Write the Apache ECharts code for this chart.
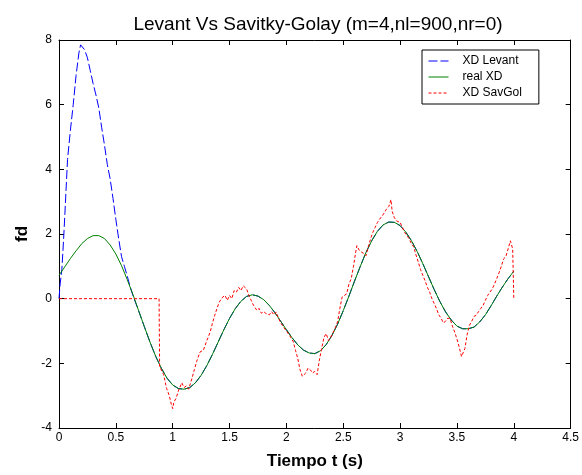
<!DOCTYPE html>
<html>
<head>
<meta charset="utf-8">
<script src="https://cdn.jsdelivr.net/npm/echarts@6/dist/echarts.min.js"></script>
<style>
  html, body { margin: 0; padding: 0; background: #fff; }
  #chart { width: 582px; height: 475px; }
</style>
</head>
<body>
<div id="chart"></div>
<script>
// señal real XD (verde)
const realXD = [
  [0, 0.72], [0.05, 0.98], [0.1, 1.24], [0.15, 1.48], [0.2, 1.7], [0.25, 1.86], [0.3, 1.95], [0.35, 1.95],
  [0.4, 1.86], [0.45, 1.66], [0.5, 1.38], [0.55, 1.02], [0.6, 0.59], [0.65, 0.13], [0.7, -0.37], [0.75, -0.86],
  [0.8, -1.34], [0.85, -1.78], [0.9, -2.15], [0.95, -2.46], [1.0, -2.67], [1.05, -2.78], [1.1, -2.8], [1.15, -2.75],
  [1.2, -2.6], [1.25, -2.37], [1.3, -2.07], [1.35, -1.72], [1.4, -1.34], [1.45, -0.96], [1.5, -0.61], [1.55, -0.31],
  [1.6, -0.08], [1.65, 0.07], [1.7, 0.12], [1.75, 0.08], [1.8, -0.03], [1.85, -0.21], [1.9, -0.44], [1.95, -0.7],
  [2.0, -0.96], [2.05, -1.21], [2.1, -1.43], [2.15, -1.59], [2.2, -1.68], [2.25, -1.7], [2.3, -1.61], [2.35, -1.42],
  [2.4, -1.14], [2.45, -0.79], [2.5, -0.37], [2.55, 0.08], [2.6, 0.55], [2.65, 1.0], [2.7, 1.43], [2.75, 1.79],
  [2.8, 2.08], [2.85, 2.28], [2.9, 2.37], [2.95, 2.36], [3.0, 2.26], [3.05, 2.06], [3.1, 1.79], [3.15, 1.46],
  [3.2, 1.08], [3.25, 0.68], [3.3, 0.28], [3.35, -0.09], [3.4, -0.41], [3.45, -0.66], [3.5, -0.85], [3.55, -0.93],
  [3.6, -0.93], [3.65, -0.88], [3.7, -0.72], [3.75, -0.5], [3.8, -0.22], [3.85, 0.08], [3.9, 0.36], [3.95, 0.62],
  [4.0, 0.85]
]

// Levant: el pico inicial, luego sigue a la señal real
const levantHead = [
  [0, 0], [0.01, 0.45], [0.025, 0.9], [0.04, 1.8], [0.05, 2.5], [0.075, 4.3], [0.1, 5.2], [0.125, 6.0],
  [0.15, 6.9], [0.175, 7.6], [0.19, 7.85], [0.2, 7.85], [0.225, 7.7], [0.25, 7.45], [0.275, 7.05], [0.3, 6.65],
  [0.325, 6.3], [0.35, 5.9], [0.375, 5.3], [0.4, 4.75], [0.425, 4.15], [0.45, 3.7], [0.475, 3.1], [0.5, 2.45],
  [0.525, 1.85], [0.55, 1.3], [0.575, 1.0], [0.6, 0.7], [0.625, 0.38], [0.65, 0.1]
]
const levantXD = levantHead.concat(realXD.filter(p => p[0] >= 0.7))

// Savitzky-Golay (rojo)
const savGolXD = [
  [0, 0], [0.88, 0], [0.885, -2.1], [0.92, -2.35], [0.946, -2.77], [0.97, -3.0], [0.99, -3.3], [1.0, -3.4],
  [1.01, -3.2], [1.03, -3.08], [1.05, -2.85], [1.08, -2.6], [1.1, -2.75], [1.12, -2.7], [1.14, -2.8], [1.17, -2.46],
  [1.19, -2.2], [1.21, -1.95], [1.24, -1.65], [1.27, -1.59], [1.3, -1.3], [1.33, -1.03], [1.35, -0.75], [1.37, -0.51],
  [1.39, -0.3], [1.41, -0.1], [1.44, 0.05], [1.46, 0.1], [1.48, -0.05], [1.5, 0.1], [1.52, 0.0], [1.54, 0.25],
  [1.56, 0.2], [1.58, 0.35], [1.6, 0.25], [1.62, 0.4], [1.63, 0.46], [1.65, 0.3], [1.67, 0.1], [1.69, -0.05],
  [1.71, -0.2], [1.74, -0.36], [1.76, -0.3], [1.78, -0.45], [1.8, -0.4], [1.82, -0.46], [1.85, -0.5], [1.87, -0.4],
  [1.89, -0.5], [1.91, -0.41], [1.93, -0.6], [1.95, -0.75], [1.97, -0.86], [2.0, -1.0], [2.03, -1.15], [2.06, -1.33],
  [2.08, -1.6], [2.1, -1.85], [2.12, -2.2], [2.14, -2.4], [2.15, -2.46], [2.17, -2.3], [2.19, -2.15], [2.21, -2.2],
  [2.23, -2.3], [2.25, -2.25], [2.27, -2.35], [2.29, -1.9], [2.31, -1.54], [2.33, -1.2], [2.35, -1.08], [2.37, -1.3],
  [2.39, -1.2], [2.41, -1.05], [2.43, -0.9], [2.45, -0.72], [2.47, -0.3], [2.49, 0.05], [2.51, 0.1], [2.53, 0.15],
  [2.55, 0.45], [2.57, 0.62], [2.59, 1.0], [2.61, 1.45], [2.62, 1.64], [2.64, 1.5], [2.66, 1.44], [2.68, 1.4],
  [2.7, 1.33], [2.72, 1.6], [2.74, 1.85], [2.76, 2.05], [2.78, 2.2], [2.8, 2.35], [2.82, 2.46], [2.84, 2.55],
  [2.86, 2.65], [2.88, 2.77], [2.9, 2.85], [2.92, 3.06], [2.93, 2.7], [2.95, 2.5], [2.97, 2.4], [3.0, 2.36],
  [3.02, 2.2], [3.04, 2.05], [3.06, 1.95], [3.08, 1.85], [3.1, 1.7], [3.12, 1.6], [3.14, 1.35], [3.16, 1.13],
  [3.18, 0.9], [3.2, 0.72], [3.22, 0.55], [3.24, 0.35], [3.26, 0.2], [3.28, 0.0], [3.3, -0.15], [3.32, -0.31],
  [3.34, -0.5], [3.36, -0.6], [3.38, -0.75], [3.4, -0.7], [3.42, -0.6], [3.44, -0.62], [3.46, -0.85], [3.48, -1.03],
  [3.5, -1.25], [3.52, -1.5], [3.54, -1.79], [3.55, -1.85], [3.57, -1.54], [3.59, -1.1], [3.61, -0.82], [3.63, -0.7],
  [3.65, -0.55], [3.67, -0.51], [3.69, -0.4], [3.71, -0.3], [3.73, -0.21], [3.75, -0.05], [3.77, 0.1], [3.79, 0.2],
  [3.81, 0.3], [3.83, 0.45], [3.85, 0.62], [3.87, 0.8], [3.89, 1.0], [3.91, 1.23], [3.93, 1.3], [3.95, 1.54],
  [3.97, 1.79], [3.99, 1.54], [4.0, 0]
]

const seriesNames = ['XD Levant', 'real XD', 'XD SavGol']

const chart = echarts.init(document.getElementById('chart'))

const font = 'Liberation Sans, Arial, sans-serif'
const axisFont = { fontFamily: font, fontSize: 12, color: '#000' }
const axisLine = { show: true, onZero: false, lineStyle: { color: '#000', width: 1 } }
const tickIn = { show: true, inside: true, length: 5, lineStyle: { color: '#000' } }

chart.setOption({
  animation: false,
  backgroundColor: '#fff',
  title: {
    text: 'Levant Vs Savitky-Golay (m=4,nl=900,nr=0)',
    left: 313,
    textAlign: 'center',
    top: 10,
    textStyle: { fontFamily: font, fontSize: 19, fontWeight: 'normal', color: '#000' },
  },
  legend: {
    data: seriesNames,
    orient: 'vertical',
    left: 422,
    top: 50,
    backgroundColor: '#fff',
    borderColor: '#000',
    borderWidth: 1,
    borderRadius: 0,
    padding: [5, 17, 5, 6],
    itemGap: 4,
    itemWidth: 20,
    itemHeight: 12,
    itemStyle: { opacity: 0 },
    lineStyle: { width: 1 },
    textStyle: { fontFamily: font, fontSize: 12, color: '#000', padding: [0, 0, 0, 9] },
  },
  grid: { left: 59, right: 11, top: 40, bottom: 45 },
  xAxis: [
    {
      type: 'value', min: 0, max: 4.5, interval: 0.5,
      name: 'Tiempo t (s)', nameLocation: 'middle', nameGap: 25,
      nameTextStyle: { fontFamily: font, fontSize: 17, fontWeight: 'bold', color: '#000' },
      axisLine, axisTick: tickIn, splitLine: { show: false },
      axisLabel: { ...axisFont, margin: 4 },
    },
    {
      type: 'value', min: 0, max: 4.5, interval: 0.5, position: 'top',
      axisLine, axisTick: tickIn, splitLine: { show: false }, axisLabel: { show: false },
    },
  ],
  yAxis: [
    {
      type: 'value', min: -4, max: 8, interval: 2,
      name: 'fd', nameLocation: 'middle', nameGap: 28, nameRotate: 90,
      nameTextStyle: { fontFamily: font, fontSize: 17, fontWeight: 'bold', color: '#000' },
      axisLine, axisTick: tickIn, splitLine: { show: false },
      axisLabel: { ...axisFont, margin: 7 },
    },
    {
      type: 'value', min: -4, max: 8, interval: 2, position: 'right',
      axisLine, axisTick: tickIn, splitLine: { show: false }, axisLabel: { show: false },
    },
  ],
  series: [
    {
      name: seriesNames[0], type: 'line', data: levantXD, symbol: 'none',
      lineStyle: { color: '#0000ff', width: 1, type: [9, 3] }, itemStyle: { color: '#0000ff' },
    },
    {
      name: seriesNames[1], type: 'line', data: realXD, symbol: 'none',
      lineStyle: { color: '#008000', width: 1 }, itemStyle: { color: '#008000' },
    },
    {
      name: seriesNames[2], type: 'line', data: savGolXD, symbol: 'none',
      lineStyle: { color: '#ff0000', width: 1, type: [3, 2] }, itemStyle: { color: '#ff0000' },
    },
  ],
})
</script>
</body>
</html>
